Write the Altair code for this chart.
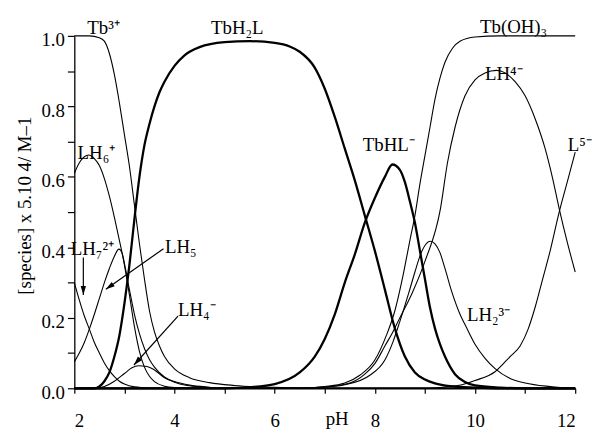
import math
import altair as alt
import pandas as pd

# ---------------- data ----------------
tb3_ph = [2.0, 2.3, 2.5, 2.6, 2.7, 2.8, 2.9, 3.0, 3.1, 3.2, 3.3, 3.4, 3.5, 3.6, 3.7, 3.8, 4.0, 4.3, 4.7, 5.2, 6.0, 7.0, 12.0]
tb3_val = [1.0, 1.0, 0.995, 0.985, 0.95, 0.89, 0.81, 0.72, 0.63, 0.52, 0.41, 0.31, 0.22, 0.16, 0.12, 0.09, 0.055, 0.03, 0.016, 0.008, 0.003, 0.0, 0.0]

tbh2l_ph = [2.0, 2.4, 2.5, 2.6, 2.7, 2.8, 2.9, 3.0, 3.1, 3.2, 3.3, 3.4, 3.5, 3.6, 3.7, 3.8, 4.0, 4.2, 4.5, 5.0, 5.5, 6.0, 6.3, 6.5, 6.8, 7.0, 7.2, 7.4, 7.6, 7.8, 8.0, 8.2, 8.4, 8.6, 8.8, 9.0, 9.2, 9.5, 10.0, 10.5, 12.0]
tbh2l_val = [0.0, 0.0, 0.005, 0.02, 0.045, 0.09, 0.15, 0.24, 0.35, 0.48, 0.6, 0.69, 0.75, 0.8, 0.84, 0.87, 0.915, 0.945, 0.968, 0.982, 0.985, 0.98, 0.97, 0.955, 0.91, 0.85, 0.77, 0.68, 0.59, 0.49, 0.39, 0.28, 0.17, 0.09, 0.045, 0.025, 0.014, 0.006, 0.002, 0.0, 0.0]

tbhl_ph = [2.0, 5.0, 5.5, 6.0, 6.5, 6.8, 7.0, 7.2, 7.4, 7.6, 7.8, 8.0, 8.2, 8.35, 8.5, 8.6, 8.7, 8.8, 8.9, 9.0, 9.1, 9.2, 9.3, 9.4, 9.6, 9.8, 10.0, 10.5, 11.0, 12.0]
tbhl_val = [0.0, 0.0, 0.003, 0.012, 0.045, 0.09, 0.14, 0.21, 0.3, 0.38, 0.47, 0.54, 0.6, 0.635, 0.62, 0.585, 0.53, 0.47, 0.39, 0.31, 0.23, 0.17, 0.125, 0.09, 0.04, 0.018, 0.008, 0.002, 0.0, 0.0]

tboh3_ph = [2.0, 6.5, 7.0, 7.4, 7.7, 8.0, 8.23, 8.4, 8.56, 8.7, 8.8, 8.9, 9.0, 9.1, 9.2, 9.3, 9.4, 9.55, 9.7, 10.0, 10.5, 12.0]
tboh3_val = [0.0, 0.0, 0.005, 0.015, 0.037, 0.08, 0.15, 0.22, 0.318, 0.42, 0.49, 0.58, 0.66, 0.74, 0.82, 0.88, 0.925, 0.965, 0.985, 0.997, 1.0, 1.0]

lh7_ph = [2.0, 2.1, 2.2, 2.3, 2.4, 2.5, 2.6, 2.7, 2.8, 2.9, 3.0, 3.2, 3.5, 4.0, 12.0]
lh7_val = [0.3, 0.25, 0.205, 0.168, 0.13, 0.1, 0.072, 0.05, 0.033, 0.02, 0.012, 0.004, 0.001, 0.0, 0.0]

lh6_ph = [2.0, 2.1, 2.2, 2.28, 2.4, 2.5, 2.6, 2.7, 2.8, 2.9, 3.0, 3.1, 3.2, 3.3, 3.4, 3.5, 3.6, 3.8, 4.0, 4.5, 12.0]
lh6_val = [0.61, 0.64, 0.657, 0.662, 0.652, 0.632, 0.595, 0.545, 0.485, 0.42, 0.35, 0.265, 0.175, 0.105, 0.06, 0.034, 0.019, 0.006, 0.002, 0.0, 0.0]

lh5_ph = [2.0, 2.1, 2.2, 2.3, 2.4, 2.5, 2.6, 2.7, 2.8, 2.89, 2.95, 3.02, 3.1, 3.2, 3.3, 3.4, 3.5, 3.6, 3.8, 4.0, 4.3, 4.7, 5.0, 12.0]
lh5_val = [0.075, 0.1, 0.13, 0.168, 0.21, 0.255, 0.3, 0.34, 0.375, 0.395, 0.385, 0.34, 0.28, 0.21, 0.155, 0.113, 0.082, 0.06, 0.032, 0.017, 0.007, 0.002, 0.0, 0.0]

lh4_ph = [2.0, 2.4, 2.6, 2.8, 3.0, 3.15, 3.28, 3.45, 3.6, 3.8, 4.0, 4.3, 4.7, 5.0, 12.0]
lh4_val = [0.0, 0.0, 0.005, 0.02, 0.042, 0.058, 0.064, 0.062, 0.052, 0.03, 0.019, 0.009, 0.003, 0.0, 0.0]

lh2_ph = [2.0, 6.5, 7.0, 7.4, 7.9, 8.2, 8.36, 8.5, 8.68, 8.8, 8.9, 9.0, 9.11, 9.2, 9.3, 9.4, 9.54, 9.7, 9.81, 10.0, 10.2, 10.4, 10.7, 11.0, 11.5, 12.0]
lh2_val = [0.0, 0.0, 0.003, 0.01, 0.037, 0.08, 0.131, 0.19, 0.272, 0.33, 0.375, 0.405, 0.417, 0.41, 0.385, 0.34, 0.272, 0.21, 0.178, 0.125, 0.085, 0.056, 0.028, 0.015, 0.005, 0.0]

lh_ph = [2.0, 6.5, 7.0, 7.5, 7.8, 8.0, 8.2, 8.36, 8.5, 8.75, 9.0, 9.31, 9.45, 9.6, 9.8, 10.0, 10.2, 10.43, 10.6, 10.8, 11.0, 11.2, 11.4, 11.55, 11.68, 11.85, 12.0]
lh_val = [0.0, 0.0, 0.004, 0.015, 0.04, 0.07, 0.12, 0.16, 0.2, 0.272, 0.36, 0.51, 0.64, 0.74, 0.83, 0.875, 0.895, 0.902, 0.895, 0.87, 0.83, 0.765, 0.68, 0.595, 0.51, 0.41, 0.33]

l5_ph = [2.0, 9.0, 9.5, 9.74, 10.0, 10.4, 10.7, 10.9, 11.06, 11.2, 11.35, 11.5, 11.68, 11.85, 12.0]
l5_val = [0.0, 0.0, 0.005, 0.01, 0.022, 0.047, 0.09, 0.12, 0.168, 0.23, 0.31, 0.39, 0.5, 0.59, 0.67]

thin_series = {
    "Tb3+": (tb3_ph, tb3_val),
    "Tb(OH)3": (tboh3_ph, tboh3_val),
    "LH7": (lh7_ph, lh7_val),
    "LH6": (lh6_ph, lh6_val),
    "LH5": (lh5_ph, lh5_val),
    "LH4": (lh4_ph, lh4_val),
    "LH2": (lh2_ph, lh2_val),
    "LH": (lh_ph, lh_val),
    "L": (l5_ph, l5_val),
}
thick_series = {
    "TbH2L": (tbh2l_ph, tbh2l_val),
    "TbHL": (tbhl_ph, tbhl_val),
}

label_text = ["Tb³⁺", "TbH₂L", "Tb(OH)₃", "LH⁴⁻", "TbHL⁻", "L⁵⁻", "LH₆⁺", "LH₇²⁺", "LH₅", "LH₄⁻", "LH₂³⁻"]
label_ph = [2.26, 4.73, 10.1, 10.2, 7.76, 11.85, 2.065, 1.93, 3.81, 4.07, 9.84]
label_val = [1.006, 1.006, 1.008, 0.875, 0.674, 0.674, 0.652, 0.379, 0.384, 0.206, 0.192]

arrow_ph_from = [2.18, 3.78, 4.07]
arrow_val_from = [0.371, 0.396, 0.205]
arrow_ph_to = [2.18, 2.63, 3.19]
arrow_val_to = [0.265, 0.281, 0.066]

x_ticks = [2, 3, 4, 5, 6, 7, 8, 9, 10, 11, 12]
y_ticks = [0.0, 0.1, 0.2, 0.3, 0.4, 0.5, 0.6, 0.7, 0.8, 0.9, 1.0]

# ---------------- build tables ----------------
W, H = 506, 356
X0, X1 = 2, 12
FONT = "Liberation Serif"


def to_rows(series):
    rows = []
    for name, (phs, vals) in series.items():
        for p, v in zip(phs, vals):
            rows.append({"species": name, "pH": p, "value": v})
    return pd.DataFrame(rows)


thin_df = to_rows(thin_series)
thick_df = to_rows(thick_series)
labels_df = pd.DataFrame({"label": label_text, "pH": label_ph, "value": label_val})
arrows_df = pd.DataFrame({"pH": arrow_ph_from, "value": arrow_val_from,
                          "pH2": arrow_ph_to, "value2": arrow_val_to})

# arrow heads: rotate toward the tip, centred half a head-length back
HEAD = 9.0
heads = []
for a, b, c, d in zip(arrow_ph_from, arrow_val_from, arrow_ph_to, arrow_val_to):
    dxp = (c - a) * W / (X1 - X0)
    dyp = -(d - b) * H
    L = math.hypot(dxp, dyp)
    ux, uy = dxp / L, dyp / L
    ang = math.degrees(math.atan2(ux, -uy)) % 360
    cx = c - (HEAD / 2) * ux * (X1 - X0) / W
    cy = d + (HEAD / 2) * uy / H
    heads.append({"pH": cx, "value": cy, "ang": ang})
heads_df = pd.DataFrame(heads)

x_scale = alt.Scale(domain=[X0, X1], nice=False, zero=False)
y_scale = alt.Scale(domain=[0, 1], nice=False, zero=False)

axis_style = dict(
    domain=True, ticks=True, labels=True, grid=False,
    domainColor="black", domainWidth=1.3, tickColor="black", tickWidth=1.2,
    labelFont=FONT, labelFontSize=19, labelColor="black",
    titleFont=FONT, titleFontSize=19, titleFontWeight="normal", titleColor="black",
)

x_axis = alt.Axis(values=x_ticks, format="d",
                  labelExpr="datum.value % 2 == 0 ? datum.label : ''",
                  title="pH", tickSize=5, labelPadding=19,
                  titleX=265, titleY=37, titleAlign="center", titleBaseline="alphabetic",
                  **axis_style)
y_axis = alt.Axis(values=y_ticks, format=".1f",
                  labelExpr="round(datum.value * 10) % 2 == 0 ? datum.label : ''",
                  title="[species]  x 5.10 4/ M–1", tickSize=7, labelPadding=3, labelOffset=4,
                  titleX=-44, titleY=171, titleAngle=270, titleAlign="center",
                  titleBaseline="alphabetic",
                  **axis_style)


def X(field="pH"):
    return alt.X(f"{field}:Q", scale=x_scale, axis=x_axis)


def Y(field="value"):
    return alt.Y(f"{field}:Q", scale=y_scale, axis=y_axis)


thin = alt.Chart(thin_df).mark_line(interpolate="monotone", color="black", strokeWidth=1.1).encode(
    x=X(), y=Y(), detail="species:N", order="pH:Q",
)

thick = alt.Chart(thick_df).mark_line(interpolate="monotone", color="black", strokeWidth=2.3).encode(
    x=X(), y=Y(), detail="species:N", order="pH:Q",
)

texts = alt.Chart(labels_df).mark_text(align="left", baseline="alphabetic", font=FONT,
                                       fontSize=19, color="black", clip=False).encode(
    x=X(), y=Y(), text="label:N",
)

rules = alt.Chart(arrows_df).mark_rule(color="black", strokeWidth=1.2).encode(
    x=X(), y=Y(), x2="pH2:Q", y2="value2:Q",
)

arrowheads = alt.Chart(heads_df).mark_point(shape="M0,-1L0.6,1L-0.6,1Z", filled=True,
                                            size=HEAD * HEAD, color="black", opacity=1).encode(
    x=X(), y=Y(), angle=alt.Angle("ang:Q", scale=None),
)

chart = alt.layer(thin, thick, rules, arrowheads, texts).properties(
    width=W, height=H,
    autosize=alt.AutoSizeParams(type="none"),
    padding={"left": 67, "top": 26, "right": 20, "bottom": 42},
    background="white",
).configure(font=FONT).configure_view(stroke=None).configure_axis(
    labelFont=FONT, titleFont=FONT,
).configure_text(font=FONT)

chart.save("out.html", embed_options={"renderer": "svg", "actions": False})
